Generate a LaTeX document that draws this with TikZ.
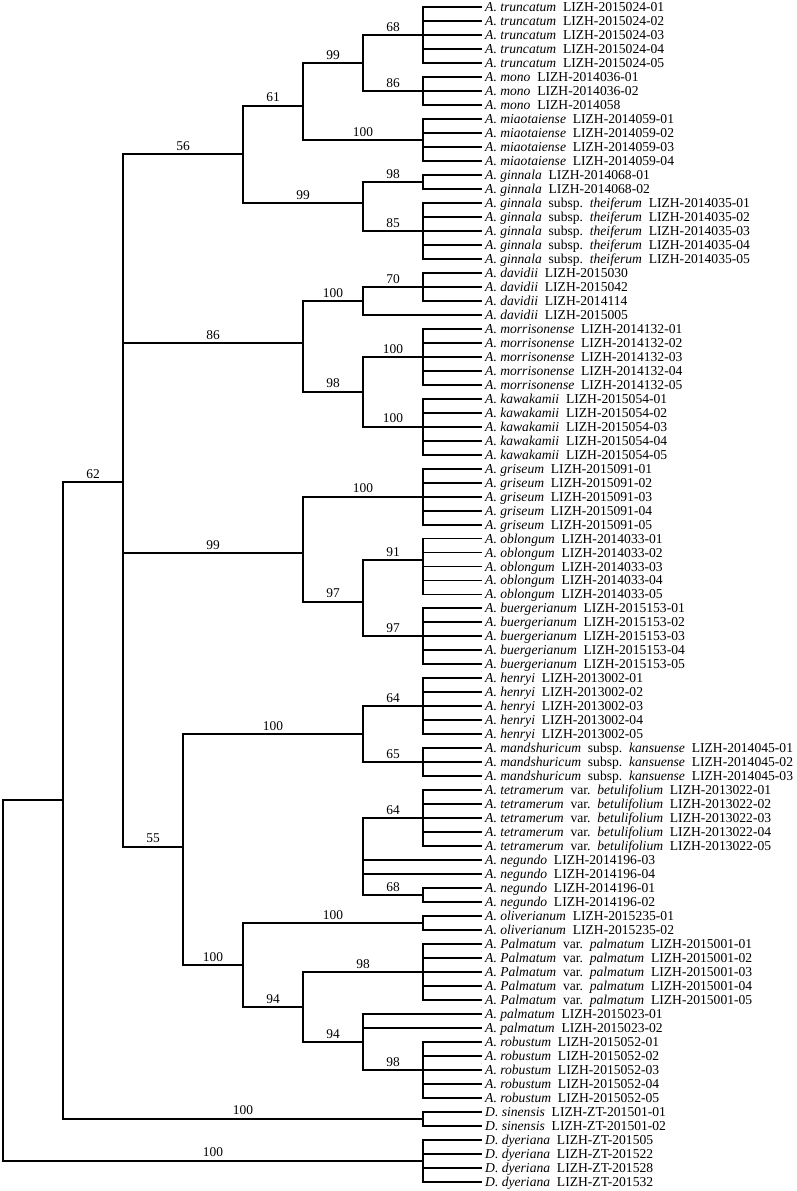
\documentclass[tikz,border=0pt]{standalone}
\usepackage{fontspec}
\setmainfont{Liberation Serif}
\usetikzlibrary{calc}
\newcommand\gp{\hspace{0.5em}}
\newcommand\lf[2]{\coordinate (t#1) at (482,{7.3+(#1-1)*13.98}); \node[leaf] (leaf#1) at (t#1) {#2};}
\newcommand\clade[5]{%
  \coordinate (#1) at (#2,#3);
  \draw[br] (t#4) -| (#1) |- (t#5);
  \foreach \i in {#4,...,#5} {\draw[br] (#1 |- t\i) -- (t\i);}}
\newcommand\bsl[3]{\node[supp] (s#2) at ($(#1 |- #2)!0.5!(#2)$) {#3};}
\begin{document}
\begin{tikzpicture}[x=1bp,y=-1bp,
  br/.style={line width=1.9bp, line join=miter},
  leaf/.style={anchor=base west, inner sep=0pt, xshift=3bp, yshift=-4.5bp, font=\fontsize{13.6bp}{15bp}\selectfont},
  supp/.style={anchor=south, inner sep=0pt, yshift=3.4bp, font=\fontsize{13.4bp}{15bp}\selectfont}]
\path[fill=white,use as bounding box] (0,0) rectangle (797,1191);
% leaves
\lf{1}{\textit{A. truncatum}\gp LIZH-2015024-01}
\lf{2}{\textit{A. truncatum}\gp LIZH-2015024-02}
\lf{3}{\textit{A. truncatum}\gp LIZH-2015024-03}
\lf{4}{\textit{A. truncatum}\gp LIZH-2015024-04}
\lf{5}{\textit{A. truncatum}\gp LIZH-2015024-05}
\lf{6}{\textit{A. mono}\gp LIZH-2014036-01}
\lf{7}{\textit{A. mono}\gp LIZH-2014036-02}
\lf{8}{\textit{A. mono}\gp LIZH-2014058}
\lf{9}{\textit{A. miaotaiense}\gp LIZH-2014059-01}
\lf{10}{\textit{A. miaotaiense}\gp LIZH-2014059-02}
\lf{11}{\textit{A. miaotaiense}\gp LIZH-2014059-03}
\lf{12}{\textit{A. miaotaiense}\gp LIZH-2014059-04}
\lf{13}{\textit{A. ginnala}\gp LIZH-2014068-01}
\lf{14}{\textit{A. ginnala}\gp LIZH-2014068-02}
\lf{15}{\textit{A. ginnala}\gp subsp.\gp\textit{theiferum}\gp LIZH-2014035-01}
\lf{16}{\textit{A. ginnala}\gp subsp.\gp\textit{theiferum}\gp LIZH-2014035-02}
\lf{17}{\textit{A. ginnala}\gp subsp.\gp\textit{theiferum}\gp LIZH-2014035-03}
\lf{18}{\textit{A. ginnala}\gp subsp.\gp\textit{theiferum}\gp LIZH-2014035-04}
\lf{19}{\textit{A. ginnala}\gp subsp.\gp\textit{theiferum}\gp LIZH-2014035-05}
\lf{20}{\textit{A. davidii}\gp LIZH-2015030}
\lf{21}{\textit{A. davidii}\gp LIZH-2015042}
\lf{22}{\textit{A. davidii}\gp LIZH-2014114}
\lf{23}{\textit{A. davidii}\gp LIZH-2015005}
\lf{24}{\textit{A. morrisonense}\gp LIZH-2014132-01}
\lf{25}{\textit{A. morrisonense}\gp LIZH-2014132-02}
\lf{26}{\textit{A. morrisonense}\gp LIZH-2014132-03}
\lf{27}{\textit{A. morrisonense}\gp LIZH-2014132-04}
\lf{28}{\textit{A. morrisonense}\gp LIZH-2014132-05}
\lf{29}{\textit{A. kawakamii}\gp LIZH-2015054-01}
\lf{30}{\textit{A. kawakamii}\gp LIZH-2015054-02}
\lf{31}{\textit{A. kawakamii}\gp LIZH-2015054-03}
\lf{32}{\textit{A. kawakamii}\gp LIZH-2015054-04}
\lf{33}{\textit{A. kawakamii}\gp LIZH-2015054-05}
\lf{34}{\textit{A. griseum}\gp LIZH-2015091-01}
\lf{35}{\textit{A. griseum}\gp LIZH-2015091-02}
\lf{36}{\textit{A. griseum}\gp LIZH-2015091-03}
\lf{37}{\textit{A. griseum}\gp LIZH-2015091-04}
\lf{38}{\textit{A. griseum}\gp LIZH-2015091-05}
\lf{39}{\textit{A. oblongum}\gp LIZH-2014033-01}
\lf{40}{\textit{A. oblongum}\gp LIZH-2014033-02}
\lf{41}{\textit{A. oblongum}\gp LIZH-2014033-03}
\lf{42}{\textit{A. oblongum}\gp LIZH-2014033-04}
\lf{43}{\textit{A. oblongum}\gp LIZH-2014033-05}
\lf{44}{\textit{A. buergerianum}\gp LIZH-2015153-01}
\lf{45}{\textit{A. buergerianum}\gp LIZH-2015153-02}
\lf{46}{\textit{A. buergerianum}\gp LIZH-2015153-03}
\lf{47}{\textit{A. buergerianum}\gp LIZH-2015153-04}
\lf{48}{\textit{A. buergerianum}\gp LIZH-2015153-05}
\lf{49}{\textit{A. henryi}\gp LIZH-2013002-01}
\lf{50}{\textit{A. henryi}\gp LIZH-2013002-02}
\lf{51}{\textit{A. henryi}\gp LIZH-2013002-03}
\lf{52}{\textit{A. henryi}\gp LIZH-2013002-04}
\lf{53}{\textit{A. henryi}\gp LIZH-2013002-05}
\lf{54}{\textit{A. mandshuricum}\gp subsp.\gp\textit{kansuense}\gp LIZH-2014045-01}
\lf{55}{\textit{A. mandshuricum}\gp subsp.\gp\textit{kansuense}\gp LIZH-2014045-02}
\lf{56}{\textit{A. mandshuricum}\gp subsp.\gp\textit{kansuense}\gp LIZH-2014045-03}
\lf{57}{\textit{A. tetramerum}\gp var.\gp\textit{betulifolium}\gp LIZH-2013022-01}
\lf{58}{\textit{A. tetramerum}\gp var.\gp\textit{betulifolium}\gp LIZH-2013022-02}
\lf{59}{\textit{A. tetramerum}\gp var.\gp\textit{betulifolium}\gp LIZH-2013022-03}
\lf{60}{\textit{A. tetramerum}\gp var.\gp\textit{betulifolium}\gp LIZH-2013022-04}
\lf{61}{\textit{A. tetramerum}\gp var.\gp\textit{betulifolium}\gp LIZH-2013022-05}
\lf{62}{\textit{A. negundo}\gp LIZH-2014196-03}
\lf{63}{\textit{A. negundo}\gp LIZH-2014196-04}
\lf{64}{\textit{A. negundo}\gp LIZH-2014196-01}
\lf{65}{\textit{A. negundo}\gp LIZH-2014196-02}
\lf{66}{\textit{A. oliverianum}\gp LIZH-2015235-01}
\lf{67}{\textit{A. oliverianum}\gp LIZH-2015235-02}
\lf{68}{\textit{A. Palmatum}\gp var.\gp\textit{palmatum}\gp LIZH-2015001-01}
\lf{69}{\textit{A. Palmatum}\gp var.\gp\textit{palmatum}\gp LIZH-2015001-02}
\lf{70}{\textit{A. Palmatum}\gp var.\gp\textit{palmatum}\gp LIZH-2015001-03}
\lf{71}{\textit{A. Palmatum}\gp var.\gp\textit{palmatum}\gp LIZH-2015001-04}
\lf{72}{\textit{A. Palmatum}\gp var.\gp\textit{palmatum}\gp LIZH-2015001-05}
\lf{73}{\textit{A. palmatum}\gp LIZH-2015023-01}
\lf{74}{\textit{A. palmatum}\gp LIZH-2015023-02}
\lf{75}{\textit{A. robustum}\gp LIZH-2015052-01}
\lf{76}{\textit{A. robustum}\gp LIZH-2015052-02}
\lf{77}{\textit{A. robustum}\gp LIZH-2015052-03}
\lf{78}{\textit{A. robustum}\gp LIZH-2015052-04}
\lf{79}{\textit{A. robustum}\gp LIZH-2015052-05}
\lf{80}{\textit{D. sinensis}\gp LIZH-ZT-201501-01}
\lf{81}{\textit{D. sinensis}\gp LIZH-ZT-201501-02}
\lf{82}{\textit{D. dyeriana}\gp LIZH-ZT-201505}
\lf{83}{\textit{D. dyeriana}\gp LIZH-ZT-201522}
\lf{84}{\textit{D. dyeriana}\gp LIZH-ZT-201528}
\lf{85}{\textit{D. dyeriana}\gp LIZH-ZT-201532}
% terminal clades
\clade{Ntrunc}{423}{35.26}{1}{5}
\clade{Nmono}{423}{91.18}{6}{8}
\clade{Nmiao}{423}{140.11}{9}{12}
\clade{Nginn}{423}{182.05}{13}{14}
\clade{Nthei}{423}{230.98}{15}{19}
\clade{N70}{423}{286.9}{20}{22}
\clade{Nmor}{423}{356.8}{24}{28}
\clade{Nkaw}{423}{426.7}{29}{33}
\clade{Ngri}{423}{496.6}{34}{38}
\clade{Nobl}{423}{560}{39}{43}
\clade{Nbue}{423}{636.4}{44}{48}
\clade{Nhen}{423}{706.3}{49}{53}
\clade{Nman}{423}{762.22}{54}{56}
\clade{N64t}{423}{818.14}{57}{61}
\clade{N68}{423}{895.03}{64}{65}
\clade{Noliv}{423}{922.99}{66}{67}
\clade{NPalm}{423}{971.92}{68}{72}
\clade{Nrob}{423}{1069.78}{75}{79}
\clade{Dsin}{423}{1118.71}{80}{81}
\clade{Ddy}{423}{1160.65}{82}{85}
% internal nodes
\coordinate (R) at (3,980);
\coordinate (N63) at (63,800.3);
\coordinate (X) at (123,482.3);
\coordinate (N56) at (243,154.3);
\coordinate (N61) at (303,105.7);
\coordinate (N99a) at (363,63.3);
\coordinate (N99b) at (363,203.3);
\coordinate (N86) at (303,343.3);
\coordinate (Ndav) at (363,301.3);
\coordinate (N98) at (363,391.7);
\coordinate (N99c) at (303,553);
\coordinate (N97) at (363,601.7);
\coordinate (N55) at (183,846.7);
\coordinate (N100h) at (363,734.3);
\coordinate (Nneg) at (363,857);
\coordinate (N100o) at (243,965);
\coordinate (N94a) at (303,1007);
\coordinate (N94b) at (363,1042);
% connectors
\draw[br] (Ntrunc) -| (N99a) |- (Nmono);
\draw[br] (N99a) -| (N61) |- (Nmiao);
\draw[br] (N61) -| (N56) |- (N99b);
\draw[br] (Nginn) -| (N99b) |- (Nthei);
\draw[br] (N70) -| (Ndav) |- (t23);
\draw[br] (Nmor) -| (N98) |- (Nkaw);
\draw[br] (Ndav) -| (N86) |- (N98);
\draw[br] (Nobl) -| (N97) |- (Nbue);
\draw[br] (Ngri) -| (N99c) |- (N97);
\draw[br] (Nhen) -| (N100h) |- (Nman);
\draw[br] (N64t) -| (Nneg) |- (N68);
\draw[br] (Nneg |- t62) -- (t62);
\draw[br] (Nneg |- t63) -- (t63);
\draw[br] (t73) -| (N94b) |- (Nrob);
\draw[br] (N94b |- t74) -- (t74);
\draw[br] (NPalm) -| (N94a) |- (N94b);
\draw[br] (Noliv) -| (N100o) |- (N94a);
\draw[br] (N100h) -| (N55) |- (N100o);
\draw[br] (N56) -| (X) |- (N55);
\draw[br] (X |- N86) -- (N86);
\draw[br] (X |- N99c) -- (N99c);
\draw[br] (X) -| (N63) |- (Dsin);
\draw[br] (N63) -| (R) |- (Ddy);
% support values
\bsl{N99a}{Ntrunc}{68}
\bsl{N99a}{Nmono}{86}
\bsl{N61}{N99a}{99}
\bsl{N61}{Nmiao}{100}
\bsl{N56}{N61}{61}
\bsl{X}{N56}{56}
\bsl{N56}{N99b}{99}
\bsl{N99b}{Nginn}{98}
\bsl{N99b}{Nthei}{85}
\bsl{Ndav}{N70}{70}
\bsl{N86}{Ndav}{100}
\bsl{X}{N86}{86}
\bsl{N98}{Nmor}{100}
\bsl{N86}{N98}{98}
\bsl{N98}{Nkaw}{100}
\bsl{N99c}{Ngri}{100}
\bsl{X}{N99c}{99}
\bsl{N97}{Nobl}{91}
\bsl{N99c}{N97}{97}
\bsl{N97}{Nbue}{97}
\bsl{N100h}{Nhen}{64}
\bsl{N55}{N100h}{100}
\bsl{N100h}{Nman}{65}
\bsl{Nneg}{N64t}{64}
\bsl{Nneg}{N68}{68}
\bsl{X}{N55}{55}
\bsl{N100o}{Noliv}{100}
\bsl{N55}{N100o}{100}
\bsl{N94a}{NPalm}{98}
\bsl{N100o}{N94a}{94}
\bsl{N94a}{N94b}{94}
\bsl{N94b}{Nrob}{98}
\bsl{N63}{X}{62}
\bsl{N63}{Dsin}{100}
\bsl{R}{Ddy}{100}
\end{tikzpicture}
\end{document}
